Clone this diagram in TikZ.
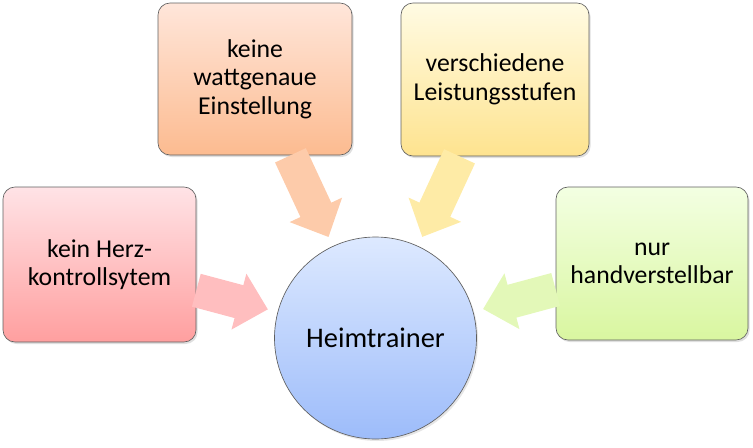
\documentclass[tikz,border=0pt]{standalone}
\usepackage{fontspec}
\setmainfont{Carlito}
\usetikzlibrary{arrows.meta,shadows}
\definecolor{htLine}{HTML}{5F5F5F}
\definecolor{htRedTop}{HTML}{FFE3E6}
\definecolor{htRedBot}{HTML}{FF9F9F}
\definecolor{htRedArr}{HTML}{FFBEBF}
\definecolor{htPeachTop}{HTML}{FFE6DA}
\definecolor{htPeachBot}{HTML}{FCBB90}
\definecolor{htPeachArr}{HTML}{FDCBAA}
\definecolor{htYellowTop}{HTML}{FFFBE3}
\definecolor{htYellowBot}{HTML}{FEE38F}
\definecolor{htYellowArr}{HTML}{FEEBA6}
\definecolor{htGreenTop}{HTML}{F3FFE2}
\definecolor{htGreenBot}{HTML}{D9F6A0}
\definecolor{htGreenArr}{HTML}{E3F8B8}
\definecolor{htBlueTop}{HTML}{DDE9FF}
\definecolor{htBlueBot}{HTML}{9DBCFA}
\tikzset{
  ht box/.style={rectangle, rounded corners=9pt, draw=htLine, line width=0.5pt, align=center, font=\fontsize{19.3}{21.5}\selectfont, drop shadow={opacity=0.25, shadow xshift=1.2pt, shadow yshift=-1.5pt}},
  ht hub/.style={circle, draw=htLine, line width=0.5pt, minimum size=151.5pt, inner sep=0pt, top color=htBlueTop, bottom color=htBlueBot, font=\fontsize{21.3}{24}\selectfont, drop shadow={opacity=0.2, shadow xshift=1.2pt, shadow yshift=-1.5pt}},
  ht arrow/.style={draw=#1, line width=25.5pt, -{Triangle[length=22.5pt,width=42pt]}, shorten >=7.5pt},
}
\begin{document}
\begin{tikzpicture}[x=0.75pt,y=-0.75pt]
\useasboundingbox (0,0) rectangle (753,447);
\node[ht box, minimum width=144.75pt, minimum height=116.25pt, top color=htRedTop, bottom color=htRedBot] (herz) at (99.5,264.5) {kein Herz-\\kontrollsytem};
\node[ht box, minimum width=145.5pt, minimum height=114pt, top color=htPeachTop, bottom color=htPeachBot] (watt) at (255,79) {keine\\wattgenaue\\Einstellung};
\node[ht box, minimum width=141pt, minimum height=114.75pt, top color=htYellowTop, bottom color=htYellowBot] (stufen) at (495,79.5) {verschiedene\\Leistungsstufen};
\node[ht box, minimum width=144pt, minimum height=114.75pt, top color=htGreenTop, bottom color=htGreenBot] (hand) at (652,263.5) {nur\\handverstellbar};
\node[ht hub] (hub) at (375.5,338) {Heimtrainer};
% arrows into the hub
\draw[ht arrow=htRedArr] (herz) -- (hub);
\draw[ht arrow=htPeachArr] (watt) -- (hub);
\draw[ht arrow=htYellowArr] (stufen) -- (hub);
\draw[ht arrow=htGreenArr] (hand) -- (hub);
\end{tikzpicture}
\end{document}
